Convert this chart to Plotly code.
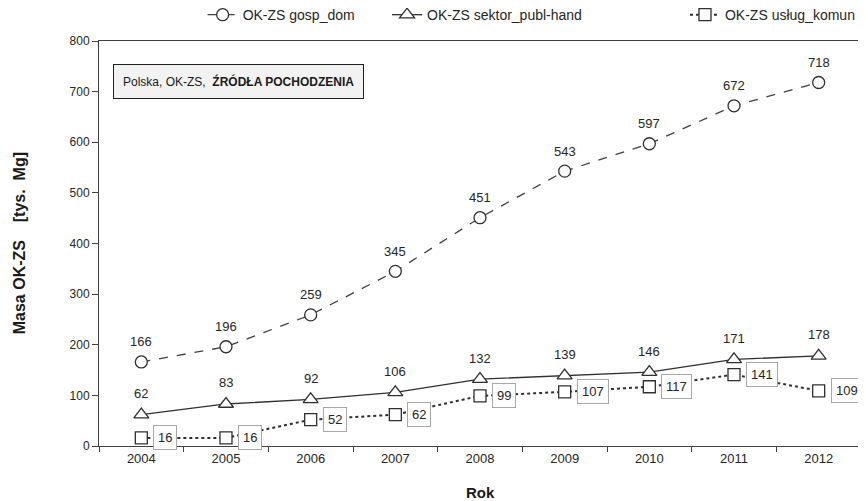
import plotly.graph_objects as go

years = ["2004", "2005", "2006", "2007", "2008", "2009", "2010", "2011", "2012"]
gosp_dom = [166, 196, 259, 345, 451, 543, 597, 672, 718]
sektor_publ_hand = [62, 83, 92, 106, 132, 139, 146, 171, 178]
uslug_komun = [16, 16, 52, 62, 99, 107, 117, 141, 109]

y_ticks = [0, 100, 200, 300, 400, 500, 600, 700, 800]

FONT = "Arial, Liberation Sans, sans-serif"
INK = "#262626"

fig = go.Figure()

fig.add_trace(go.Scatter(
  x=years, y=gosp_dom, name="OK-ZS gosp_dom", mode="lines+markers", legend="legend",
  line=dict(color="#404040", width=1.3, dash="dash"),
  marker=dict(symbol="circle", size=12, color="white", line=dict(color="#303030", width=1.3))
))
fig.add_trace(go.Scatter(
  x=years, y=sektor_publ_hand, name="OK-ZS sektor_publ-hand", mode="lines+markers", legend="legend2",
  line=dict(color="#303030", width=1.3),
  marker=dict(symbol="triangle-up", size=13, color="white", line=dict(color="#303030", width=1.3))
))
fig.add_trace(go.Scatter(
  x=years, y=uslug_komun, name="OK-ZS usług_komun", mode="lines+markers", legend="legend3",
  line=dict(color="#303030", width=2, dash="dot"),
  marker=dict(symbol="square", size=12, color="white", line=dict(color="#303030", width=1.3))
))

# data labels (x given as category index)
for i, v in enumerate(gosp_dom):
  fig.add_annotation(x=i, y=v, text=str(v), showarrow=False, yshift=20,
                     font=dict(size=13, color=INK, family=FONT))
for i, v in enumerate(sektor_publ_hand):
  fig.add_annotation(x=i, y=v, text=str(v), showarrow=False, yshift=21,
                     font=dict(size=13, color=INK, family=FONT))
for i, v in enumerate(uslug_komun):
  fig.add_annotation(x=i, y=v, text=str(v), showarrow=False, xanchor="left", xshift=12,
                     font=dict(size=13, color=INK, family=FONT),
                     bgcolor="white", bordercolor="#a8a8a8", borderwidth=1, borderpad=4)

fig.add_annotation(
  xref="paper", yref="paper", x=0.018, y=0.943, xanchor="left", yanchor="top",
  text="Polska, OK-ZS,  <b>ŹRÓDŁA POCHODZENIA</b>", showarrow=False,
  font=dict(size=12, color="#1a1a1a", family=FONT),
  bgcolor="#f2f2f2", bordercolor="#202020", borderwidth=1, borderpad=9
)

# axis titles
fig.add_annotation(
  xref="paper", yref="paper", x=-0.104, y=0.5, xanchor="center", yanchor="middle",
  text="<b>Masa OK-ZS    [tys.  Mg]</b>", textangle=-90, showarrow=False,
  font=dict(size=16, color="#1a1a1a", family=FONT)
)
fig.add_annotation(
  xref="paper", yref="paper", x=0.5, y=-0.114, xanchor="center", yanchor="middle",
  text="<b>Rok</b>", showarrow=False,
  font=dict(size=15, color="#1a1a1a", family=FONT)
)

leg = dict(orientation="h", yanchor="middle", y=1.064, xanchor="left",
           font=dict(size=14, color=INK, family=FONT), itemwidth=30,
           bgcolor="rgba(0,0,0,0)")

fig.update_layout(
  width=858, height=493,
  margin=dict(l=91, r=5, t=33, b=55, autoexpand=False),
  paper_bgcolor="white", plot_bgcolor="white",
  font=dict(family=FONT, size=12, color=INK),
  showlegend=True,
  legend=dict(leg, x=0.136),
  legend2=dict(leg, x=0.378),
  legend3=dict(leg, x=0.769),
  xaxis=dict(
    type="category", range=[-0.5, len(years) - 0.5], tickson="boundaries",
    ticks="outside", ticklen=5, tickangle=0, automargin=False,
    tickcolor="#404040", showline=True, linecolor="#404040", linewidth=1, mirror=True,
    showgrid=False, tickfont=dict(size=13, color=INK)
  ),
  yaxis=dict(
    range=[0, 800], tickvals=y_ticks, ticks="outside", ticklen=6, automargin=False,
    tickcolor="#404040", showline=True, linecolor="#404040", linewidth=1, mirror=True,
    showgrid=False, zeroline=False, tickfont=dict(size=12, color=INK)
  ),
)

fig.write_html("out.html")
